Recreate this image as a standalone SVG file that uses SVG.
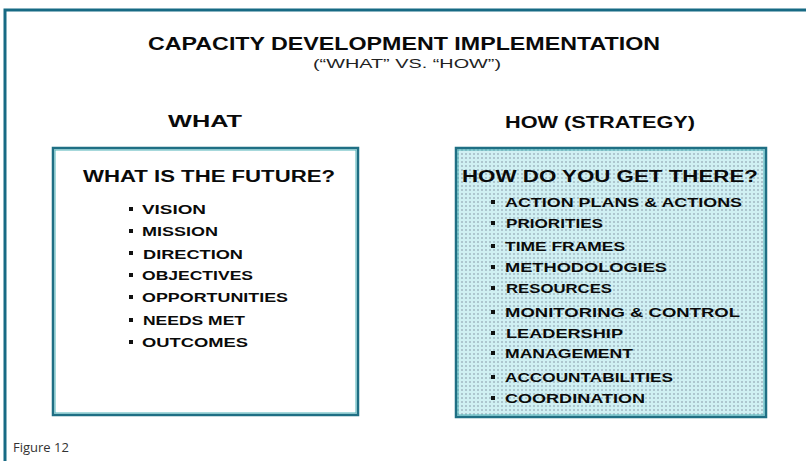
<svg xmlns="http://www.w3.org/2000/svg" width="806" height="461" viewBox="0 0 806 461">
<defs>
<pattern id="dots" width="4" height="4" patternUnits="userSpaceOnUse">
<rect width="4" height="4" fill="#d0f0f3"/>
<rect x="1" y="1" width="2" height="2" fill="#adc6cf"/>
</pattern>
<style>
.t{font-family:"Liberation Sans",Arial,sans-serif;font-weight:bold;fill:#0a0a0a}
.h{font-size:18px}
.sub{font-family:"Liberation Sans",Arial,sans-serif;font-size:12px;fill:#222}
.col{font-size:16px}
.bh{font-size:16px}
.it{font-size:12.5px}
.box{stroke:#1f6f84;stroke-width:2.5}
.inner{fill:none;stroke:#4fb2b8;stroke-width:1}
.bul{fill:#111}
.cap{font-family:"Open Sans","Liberation Sans",sans-serif;font-size:13px;fill:#333}
</style>
</defs>
<rect width="806" height="461" fill="#fff"/>
<g id="frame">
<path d="M5,461 V10 H806" fill="none" stroke="#176a84" stroke-width="3"/>
</g>
<g id="title">
<text class="t h" x="148" y="50" textLength="512" lengthAdjust="spacingAndGlyphs">CAPACITY DEVELOPMENT IMPLEMENTATION</text>
<text class="sub" x="313" y="68" textLength="188" lengthAdjust="spacingAndGlyphs">(“WHAT” VS. “HOW”)</text>
</g>
<g id="what-label">
<text class="t col" x="168" y="127" textLength="74" lengthAdjust="spacingAndGlyphs">WHAT</text>
</g>
<g id="how-label">
<text class="t col" x="505" y="128" textLength="190" lengthAdjust="spacingAndGlyphs">HOW (STRATEGY)</text>
</g>
<g id="what-box">
<rect class="box" x="53" y="148" width="305" height="267" fill="#fff"/>
<rect class="inner" x="55" y="150" width="301" height="263"/>
<text class="t bh" x="83" y="182" textLength="252" lengthAdjust="spacingAndGlyphs">WHAT IS THE FUTURE?</text>
<g class="bul">
<rect x="129" y="207" width="4" height="4"/>
<rect x="129" y="229" width="4" height="4"/>
<rect x="129" y="251" width="4" height="4"/>
<rect x="129" y="273" width="4" height="4"/>
<rect x="129" y="295" width="4" height="4"/>
<rect x="129" y="318" width="4" height="4"/>
<rect x="129" y="340" width="4" height="4"/>
</g>
<text class="t it" x="142" y="214" textLength="64" lengthAdjust="spacingAndGlyphs">VISION</text>
<text class="t it" x="142" y="236" textLength="76" lengthAdjust="spacingAndGlyphs">MISSION</text>
<text class="t it" x="143" y="259" textLength="100" lengthAdjust="spacingAndGlyphs">DIRECTION</text>
<text class="t it" x="142" y="280" textLength="111" lengthAdjust="spacingAndGlyphs">OBJECTIVES</text>
<text class="t it" x="142" y="302" textLength="146" lengthAdjust="spacingAndGlyphs">OPPORTUNITIES</text>
<text class="t it" x="143" y="325" textLength="102" lengthAdjust="spacingAndGlyphs">NEEDS MET</text>
<text class="t it" x="142" y="347" textLength="106" lengthAdjust="spacingAndGlyphs">OUTCOMES</text>
</g>
<g id="how-box">
<rect class="box" x="456" y="148" width="310" height="269" fill="url(#dots)"/>
<rect class="inner" x="458" y="150" width="306" height="265"/>
<text class="t bh" x="462" y="182" textLength="296" lengthAdjust="spacingAndGlyphs">HOW DO YOU GET THERE?</text>
<g class="bul">
<rect x="491" y="200" width="4" height="4"/>
<rect x="491" y="221" width="4" height="4"/>
<rect x="491" y="244" width="4" height="4"/>
<rect x="491" y="265" width="4" height="4"/>
<rect x="491" y="286" width="4" height="4"/>
<rect x="491" y="310" width="4" height="4"/>
<rect x="491" y="331" width="4" height="4"/>
<rect x="491" y="351" width="4" height="4"/>
<rect x="491" y="375" width="4" height="4"/>
<rect x="491" y="396" width="4" height="4"/>
</g>
<text class="t it" x="505" y="207" textLength="237" lengthAdjust="spacingAndGlyphs">ACTION PLANS &amp; ACTIONS</text>
<text class="t it" x="506" y="228" textLength="97" lengthAdjust="spacingAndGlyphs">PRIORITIES</text>
<text class="t it" x="505" y="251" textLength="120" lengthAdjust="spacingAndGlyphs">TIME FRAMES</text>
<text class="t it" x="505" y="272" textLength="162" lengthAdjust="spacingAndGlyphs">METHODOLOGIES</text>
<text class="t it" x="506" y="293" textLength="106" lengthAdjust="spacingAndGlyphs">RESOURCES</text>
<text class="t it" x="505" y="317" textLength="235" lengthAdjust="spacingAndGlyphs">MONITORING &amp; CONTROL</text>
<text class="t it" x="506" y="338" textLength="117" lengthAdjust="spacingAndGlyphs">LEADERSHIP</text>
<text class="t it" x="505" y="358" textLength="128" lengthAdjust="spacingAndGlyphs">MANAGEMENT</text>
<text class="t it" x="505" y="382" textLength="168" lengthAdjust="spacingAndGlyphs">ACCOUNTABILITIES</text>
<text class="t it" x="505" y="403" textLength="140" lengthAdjust="spacingAndGlyphs">COORDINATION</text>
</g>
<g id="caption">
<text class="cap" x="13" y="452">Figure 12</text>
</g>
</svg>
